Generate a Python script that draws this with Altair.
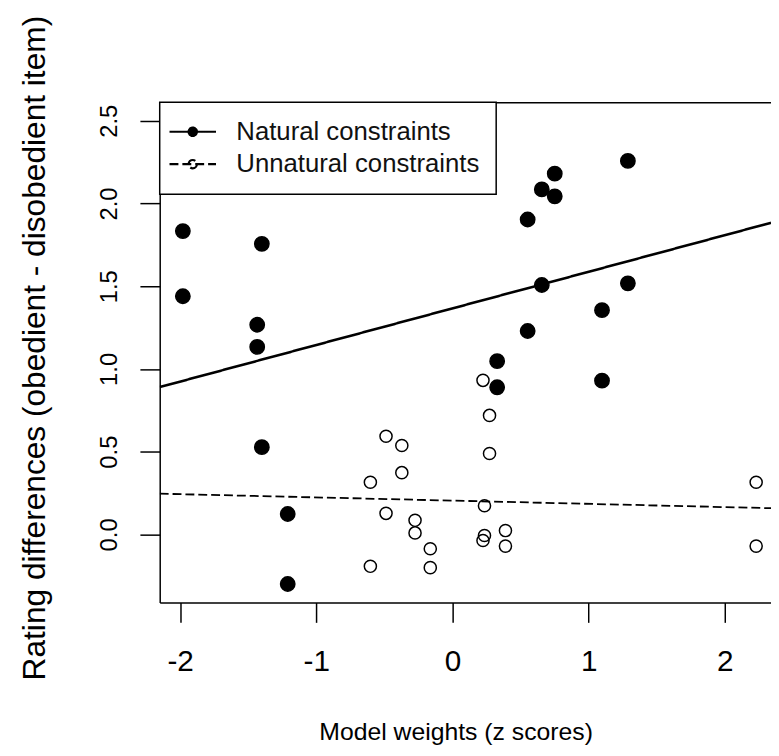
import altair as alt
import pandas as pd

groups = ["Natural constraints", "Unnatural constraints"]

nat_x = [-1.98, -1.98, -1.40, -1.40, -1.434, -1.434, -1.21, -1.21, 0.328, 0.328,
         0.552, 0.552, 0.656, 0.656, 0.751, 0.751, 1.098, 1.098, 1.288, 1.288]
nat_y = [1.833, 1.439, 1.756, 0.527, 1.267, 1.133, 0.123, -0.300, 1.047, 0.889,
         1.903, 1.229, 2.085, 1.507, 2.180, 2.043, 1.355, 0.929, 2.257, 1.517]

unnat_x = [-0.603, -0.603, -0.488, -0.488, -0.372, -0.372, -0.275, -0.275, -0.163, -0.163,
           0.224, 0.224, 0.235, 0.235, 0.272, 0.272, 0.389, 0.389, 2.230, 2.230]
unnat_y = [0.315, -0.193, 0.593, 0.127, 0.537, 0.373, 0.085, 0.009, -0.087, -0.201,
           0.931, -0.037, 0.173, -0.007, 0.719, 0.489, 0.023, -0.071, 0.315, -0.071]

x_ticks = [-2, -1, 0, 1, 2]
y_ticks = [0.0, 0.5, 1.0, 1.5, 2.0, 2.5]
x_domain = [-2.15, 2.339]
y_domain = [-0.412, 2.612]

df = pd.DataFrame({
    "x": nat_x + unnat_x,
    "y": nat_y + unnat_y,
    "group": [groups[0]] * len(nat_x) + [groups[1]] * len(unnat_x),
})

FONT = "Liberation Sans"

xscale = alt.Scale(domain=x_domain, nice=False, zero=False)
yscale = alt.Scale(domain=y_domain, nice=False, zero=False)

x_axis = alt.Axis(
    values=x_ticks, labelExpr="'' + datum.value", grid=False,
    tickSize=20, tickWidth=1.5, tickColor="black",
    domainColor="black", domainWidth=1.5,
    labelFont=FONT, labelFontSize=30, labelColor="black", labelPadding=25,
    labelFlush=False, labelOverlap=False,
    title="Model weights (z scores)", titleFont=FONT, titleFontSize=25,
    titleFontWeight="normal", titleColor="black",
    titleX=299, titleY=138, titleBaseline="alphabetic", titleAlign="center",
)
top_axis = alt.Axis(orient="top", labels=False, ticks=False, title=None, grid=False,
                    domainColor="black", domainWidth=1.5)
y_axis = alt.Axis(
    values=y_ticks, format=".1f", grid=False,
    tickSize=20, tickWidth=1.5, tickColor="black",
    domainColor="black", domainWidth=1.5,
    labelFont=FONT, labelFontSize=24, labelColor="black", labelPadding=24,
    labelAngle=270, labelAlign="center", labelBaseline="alphabetic",
    labelFlush=False, labelOverlap=False,
    title="Rating differences (obedient - disobedient item)", titleFont=FONT,
    titleFontSize=32, titleFontWeight="normal", titleColor="black",
    titleAngle=270, titleX=-116, titleY=248, titleBaseline="alphabetic", titleAlign="center",
)

legend_props = dict(
    orient="top-left", offset=0, title=None,
    symbolType="M-2.35,0H2.35M0.42,0A0.42,0.42,0,1,1,-0.42,0A0.42,0.42,0,1,1,0.42,0",
    symbolSize=400, symbolStrokeColor="black", symbolStrokeWidth=2.2,
    labelFont=FONT, labelFontSize=26, labelColor="#111111", labelOffset=31, labelLimit=500,
    padding=16.9, rowPadding=6.7, symbolOffset=3.5,
    strokeColor="black", fillColor="white",
)

points = alt.Chart(df).mark_point(filled=True, stroke="black", strokeWidth=1.5, opacity=1).encode(
    x=alt.X("x:Q", scale=xscale, axis=x_axis),
    y=alt.Y("y:Q", scale=yscale, axis=y_axis),
    fill=alt.Fill("group:N", scale=alt.Scale(domain=groups, range=["black", "transparent"]),
                  legend=alt.Legend(**legend_props)),
    size=alt.condition(alt.datum.group == groups[0], alt.value(210), alt.value(150)),
)

lines = alt.Chart(df).transform_regression(
    "x", "y", groupby=["group"], extent=x_domain
).mark_line(clip=True, color="black").encode(
    x=alt.X("x:Q", scale=xscale, axis=top_axis),
    y=alt.Y("y:Q", scale=yscale, axis=y_axis),
    strokeDash=alt.StrokeDash("group:N", scale=alt.Scale(domain=groups, range=[[1, 0], [9, 4]]),
                              legend=alt.Legend(**legend_props)),
    strokeWidth=alt.condition(alt.datum.group == groups[0], alt.value(2.6), alt.value(1.8)),
)

chart = alt.layer(points, lines).resolve_axis(x="independent").properties(
    width=617.7, height=505.6,
    autosize=alt.AutoSizeParams(type="none"),
    padding={"left": 153.3, "top": 91.3, "right": 0, "bottom": 143.1},
    background="white",
).configure_view(strokeWidth=0).configure_legend(strokeWidth=1.5)

chart.save("out.html", embed_options={"renderer": "svg", "actions": False})
